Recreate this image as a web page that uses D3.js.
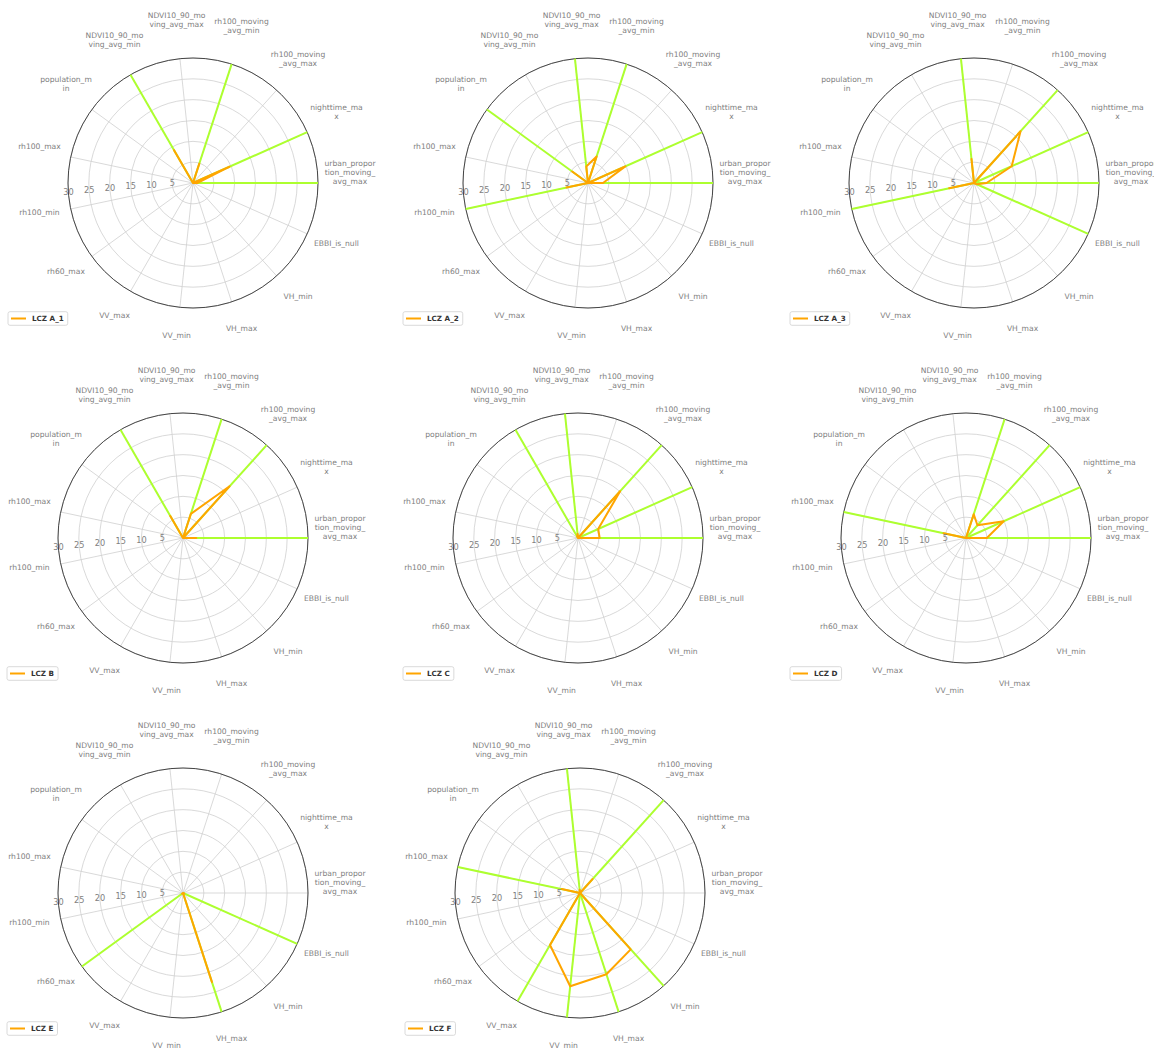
<!DOCTYPE html>
<html>
<head>
<meta charset="utf-8">
<script src="https://cdn.jsdelivr.net/npm/d3@7"></script>
<style>
  html, body { margin: 0; padding: 0; background: #fff; }
  svg { display: block; font-family: "DejaVu Sans", sans-serif; }
</style>
</head>
<body>
<script>
// Feature axes, counter-clockwise starting at 3 o'clock
const FEATURES = [
  "urban_proportion_moving_avg_max", "nighttime_max", "rh100_moving_avg_max",
  "rh100_moving_avg_min", "NDVI10_90_moving_avg_max", "NDVI10_90_moving_avg_min",
  "population_min", "rh100_max", "rh100_min", "rh60_max", "VV_max", "VV_min",
  "VH_max", "VH_min", "EBBI_is_null"
];

// Radial ticks
const R_TICKS = [5, 10, 15, 20, 25, 30];

// Feature values per LCZ class (same order as FEATURES)
const LCZ_A_1 = [1.0, 9.6, 0, 4.9, 0, 9.1, 0, 0, 0, 0, 0, 0, 0, 0, 0];
const LCZ_A_2 = [3.6, 9.8, 0, 6.7, 4.0, 0, 4.7, 0, 5.3, 0, 0, 0, 0, 0, 0];
const LCZ_A_3 = [3.0, 9.9, 16.7, 0, 5.8, 0, 0, 0, 6.1, 0, 0, 0, 0, 0, 0.8];
const LCZ_B   = [3.2, 0, 16.7, 6.1, 0, 6.1, 0, 0, 0, 0, 0, 0, 0, 0, 0];
const LCZ_C   = [5.2, 5.3, 15.1, 0, 1.0, 0.4, 0, 0, 0, 0, 0, 0, 0, 0, 0];
const LCZ_D   = [5.0, 9.9, 4.1, 6.0, 0, 0, 0, 5.5, 0, 0, 0, 0, 0, 0, 0];
const LCZ_E   = [0, 0, 0, 0, 0, 0, 0, 0, 0, 0.3, 0, 0, 22.5, 0, 0.3];
const LCZ_F   = [0, 0, 4.5, 0, 0.8, 0, 0, 4.5, 0, 0, 14.4, 22.5, 20.5, 18.2, 0];

const SERIES_NAMES = ["LCZ A_1", "LCZ A_2", "LCZ A_3", "LCZ B", "LCZ C", "LCZ D", "LCZ E", "LCZ F"];
const SERIES_VALUES = [LCZ_A_1, LCZ_A_2, LCZ_A_3, LCZ_B, LCZ_C, LCZ_D, LCZ_E, LCZ_F];

// Panel placement (centre of each polar plot, legend anchor)
const PANELS = [
  { cx: 193, cy: 183, lx: 8,   ly: 318.5 },
  { cx: 588, cy: 183, lx: 403, ly: 318.5 },
  { cx: 974, cy: 183, lx: 790, ly: 318.5 },
  { cx: 183, cy: 538, lx: 7,   ly: 673.5 },
  { cx: 578, cy: 538, lx: 403, ly: 673.5 },
  { cx: 966, cy: 538, lx: 790, ly: 673.5 },
  { cx: 183, cy: 893, lx: 7,   ly: 1028.5 },
  { cx: 580, cy: 893, lx: 405, ly: 1028.5 }
];

const W = 1154, H = 1048;
const RMAX = 125;
const GRID = "#cfcfcf";
const TEXT = "#808080";
const GREEN = "#adff2f";
const ORANGE = "#ffa500";

const svg = d3.select("body").append("svg")
  .attr("width", W).attr("height", H)
  .attr("viewBox", `0 0 ${W} ${H}`);
svg.append("rect").attr("width", W).attr("height", H).attr("fill", "#fff");

const r = d3.scaleLinear().domain([0, 30]).range([0, RMAX]);
// angle in degrees, counter-clockwise from east
const ang = d3.scaleLinear().domain([0, FEATURES.length]).range([0, 360]);

function polar(deg, rad) {
  const a = deg * Math.PI / 180;
  return [rad * Math.cos(a), -rad * Math.sin(a)];
}

// break long feature names into 12-character lines
function wrap(name) {
  const out = [];
  for (let i = 0; i < name.length; i += 12) out.push(name.slice(i, i + 12));
  return out;
}

const line = d3.line().curve(d3.curveLinearClosed);

SERIES_VALUES.forEach((vals, k) => {
  const P = PANELS[k];
  const g = svg.append("g").attr("transform", `translate(${P.cx},${P.cy})`);

  // concentric grid rings
  g.selectAll("circle.ring").data(R_TICKS).join("circle")
    .attr("class", "ring")
    .attr("r", d => r(d))
    .attr("fill", "none")
    .attr("stroke", GRID)
    .attr("stroke-width", 0.8);

  // spokes
  g.selectAll("line.spoke").data(FEATURES).join("line")
    .attr("class", "spoke")
    .attr("x1", 0).attr("y1", 0)
    .attr("x2", (d, i) => polar(ang(i), r(30))[0])
    .attr("y2", (d, i) => polar(ang(i), r(30))[1])
    .attr("stroke", GRID)
    .attr("stroke-width", 0.8);

  // outer frame
  g.append("circle")
    .attr("r", r(30))
    .attr("fill", "none")
    .attr("stroke", "#333")
    .attr("stroke-width", 0.9);

  // highlight every feature that is present for this class
  const present = vals.map((v, i) => ({ v, i })).filter(d => d.v > 0);
  g.selectAll("line.hl").data(present).join("line")
    .attr("class", "hl")
    .attr("x1", 0).attr("y1", 0)
    .attr("x2", d => polar(ang(d.i), r(30))[0])
    .attr("y2", d => polar(ang(d.i), r(30))[1])
    .attr("stroke", GREEN)
    .attr("stroke-width", 2);

  // value polygon
  const pts = vals.map((v, i) => polar(ang(i), r(v)));
  g.append("path")
    .attr("d", line(pts))
    .attr("fill", "none")
    .attr("stroke", ORANGE)
    .attr("stroke-width", 2)
    .attr("stroke-linejoin", "round");

  // radial tick labels
  g.selectAll("text.rt").data(R_TICKS).join("text")
    .attr("class", "rt")
    .attr("x", d => polar(185, r(d))[0])
    .attr("y", d => polar(185, r(d))[1] - 2)
    .attr("text-anchor", "middle")
    .attr("dominant-baseline", "central")
    .attr("font-size", 8.2)
    .attr("fill", TEXT)
    .text(d => d);

  // feature labels
  const LH = 9;
  FEATURES.forEach((name, i) => {
    const lines = wrap(name);
    const [x, y] = polar(ang(i), 157);
    const yc = y - 3.6 * lines.length;
    const t = g.append("text")
      .attr("text-anchor", "middle")
      .attr("font-size", 7.6)
      .attr("fill", TEXT);
    lines.forEach((s, j) => {
      t.append("tspan")
        .attr("x", x)
        .attr("y", yc + (j - (lines.length - 1) / 2) * LH)
        .attr("dominant-baseline", "central")
        .text(s);
    });
  });

  // legend
  const lg = svg.append("g").attr("transform", `translate(${P.lx},${P.ly})`);
  const label = lg.append("text")
    .attr("x", 24).attr("y", 0)
    .attr("dominant-baseline", "central")
    .attr("font-size", 7.2)
    .attr("font-weight", "bold")
    .attr("fill", "#333")
    .text(SERIES_NAMES[k]);
  const tw = label.node().getComputedTextLength();
  lg.insert("rect", "text")
    .attr("x", 0).attr("y", -6.8)
    .attr("width", tw + 28).attr("height", 13.6)
    .attr("rx", 2)
    .attr("fill", "#fff")
    .attr("stroke", "#d0d0d0")
    .attr("stroke-width", 0.8);
  lg.append("line")
    .attr("x1", 3).attr("x2", 18)
    .attr("y1", 0).attr("y2", 0)
    .attr("stroke", ORANGE)
    .attr("stroke-width", 2);
});
</script>
</body>
</html>
